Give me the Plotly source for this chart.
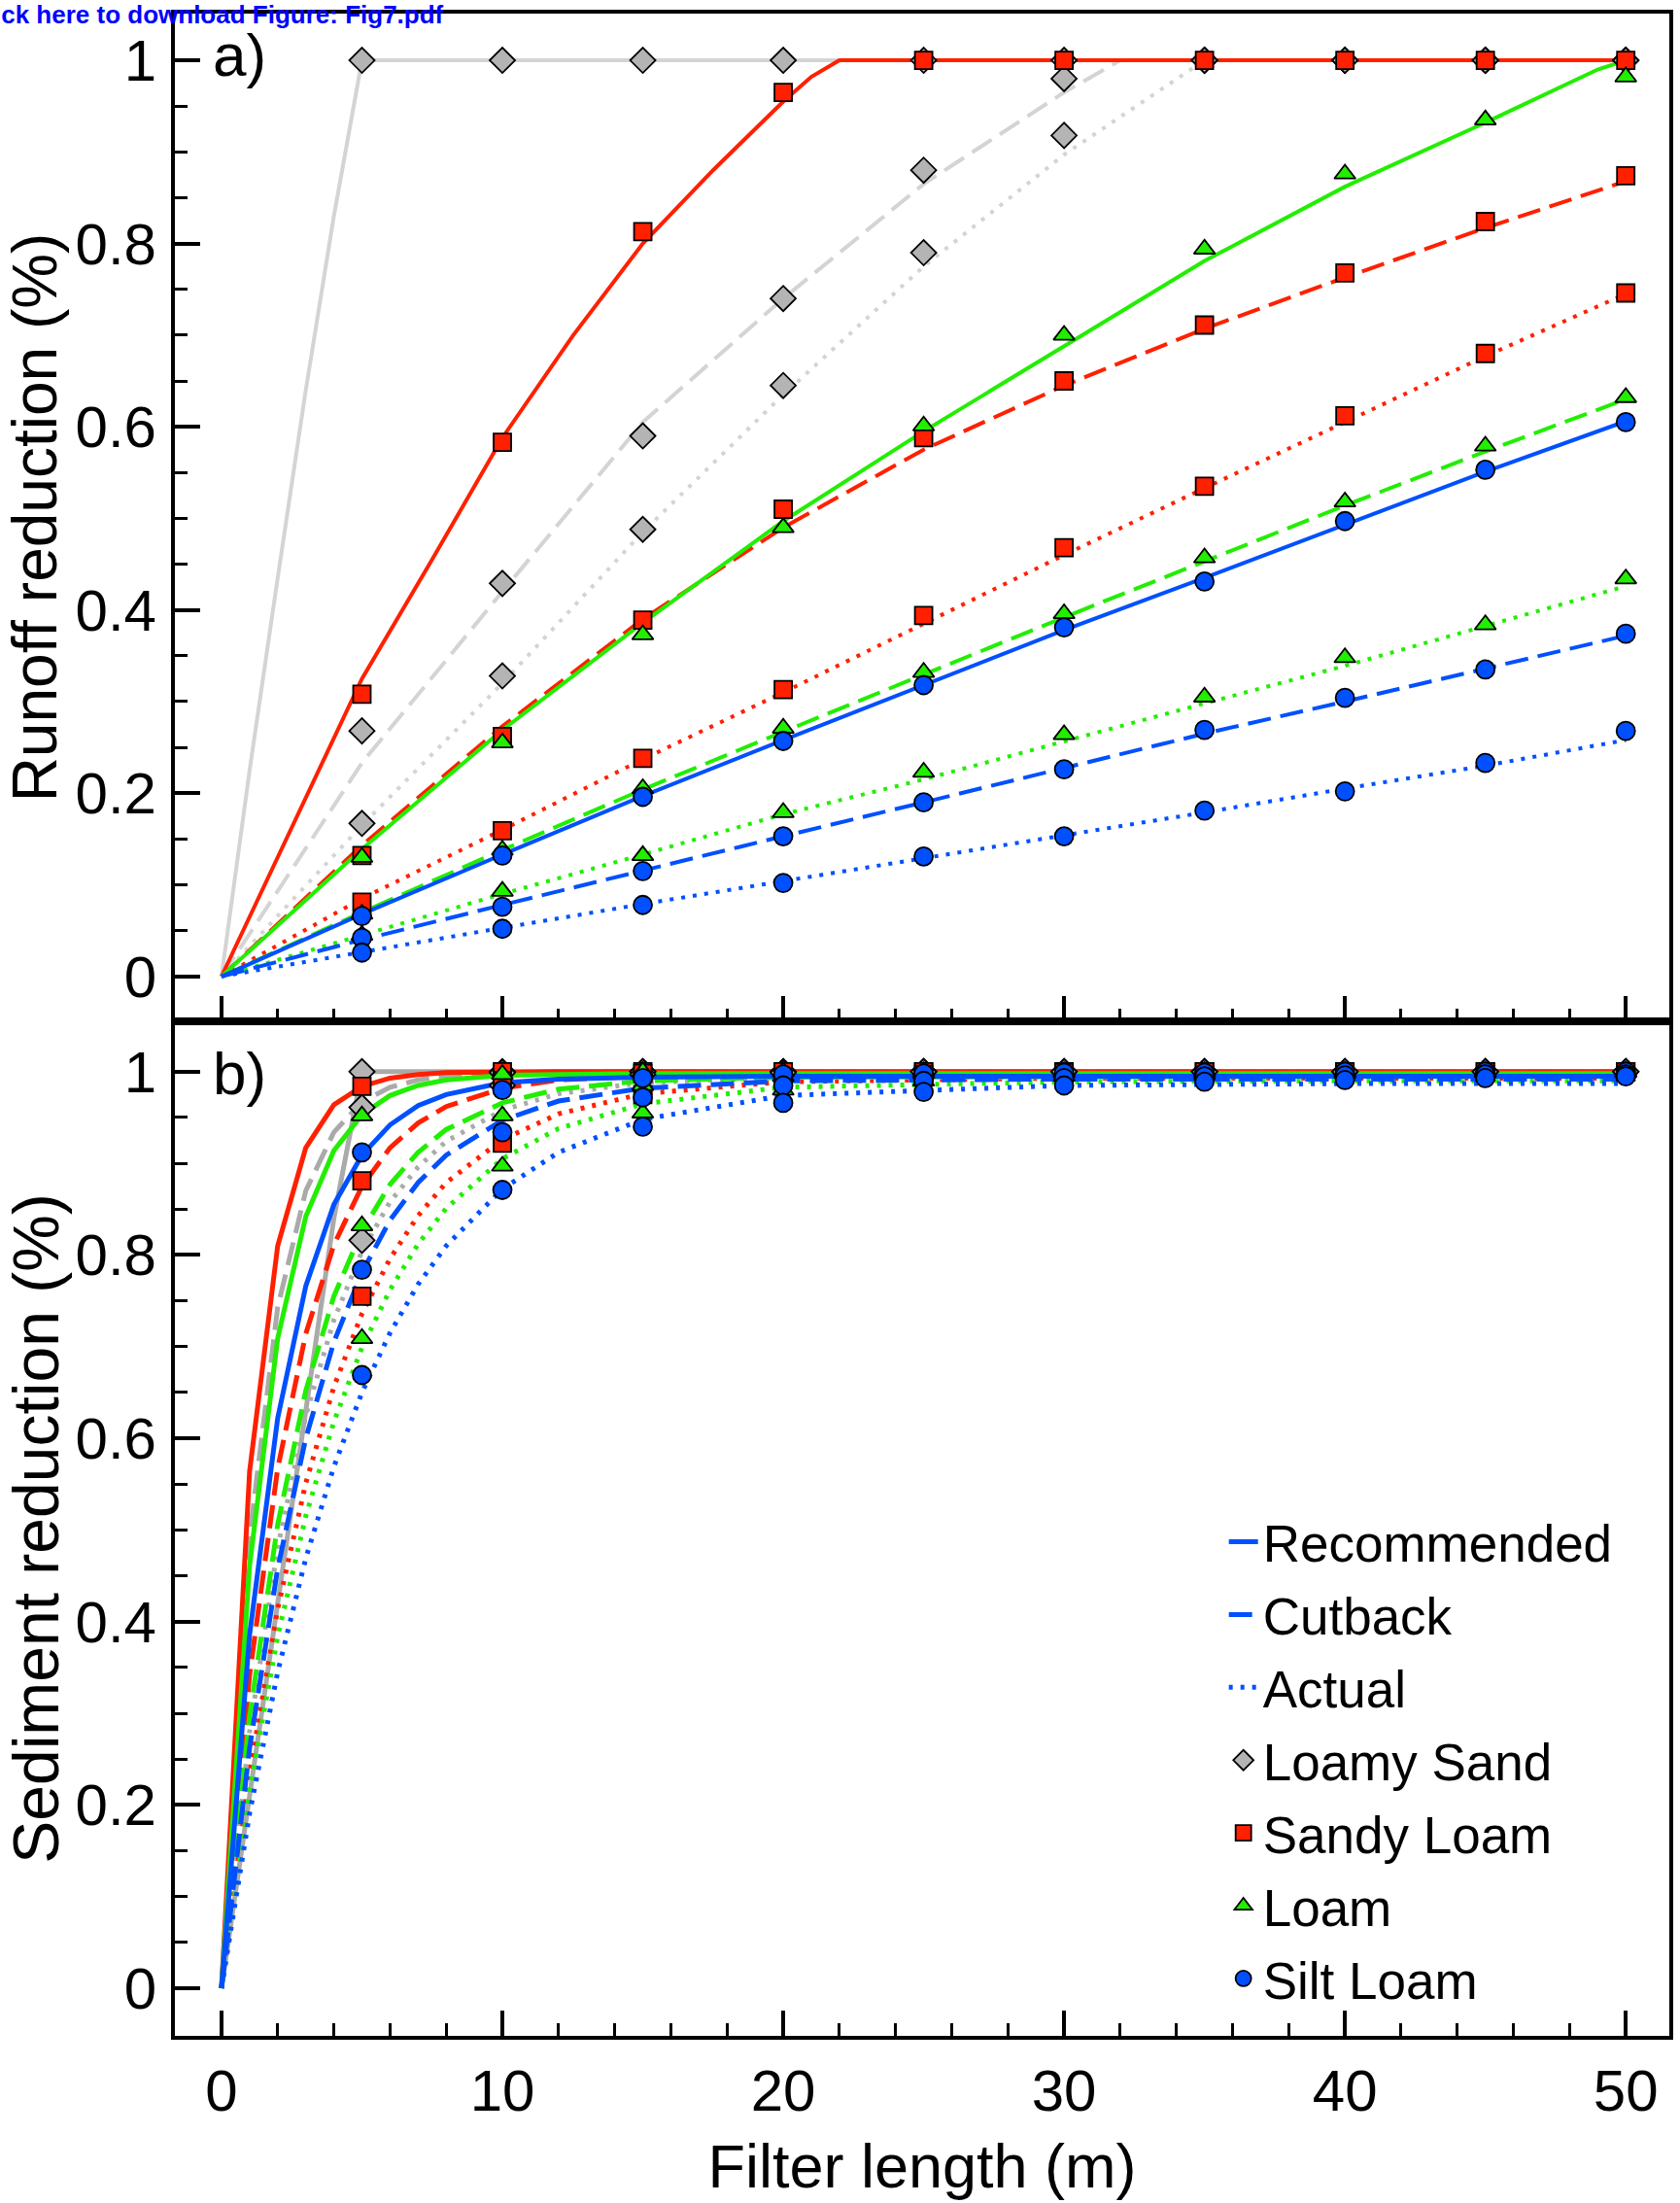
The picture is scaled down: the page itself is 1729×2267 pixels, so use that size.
import plotly.graph_objects as go
from plotly.subplots import make_subplots

# ---------------------------------------------------------------------------
# Filter lengths (m)
# ---------------------------------------------------------------------------
PT_X = [5, 10, 15, 20, 25, 30, 35, 40, 45, 50]          # simulated points
RO_X = [0, 5, 10, 15, 20, 25, 30, 35, 40, 45, 50]       # runoff curves
SD_X = [0, 1, 2, 3, 4, 5, 6, 7, 8, 10, 12, 15, 20, 30, 40, 50]  # sediment curves

# ---------------------------------------------------------------------------
# a) Runoff reduction – fitted curves
# ---------------------------------------------------------------------------
ro_ls_rec_x = [0, 1, 2, 3, 4, 5, 50]
ro_ls_rec = [0, 0.225, 0.435, 0.64, 0.83, 1.0, 1.0]
ro_ls_cut_x = [0, 5, 10, 15, 20, 25, 30, 32, 50]
ro_ls_cut = [0, 0.233, 0.42, 0.605, 0.74, 0.865, 0.965, 1.0, 1.0]
ro_ls_act_x = [0, 5, 10, 15, 20, 25, 30, 35, 50]
ro_ls_act = [0, 0.165, 0.32, 0.485, 0.635, 0.775, 0.897, 1.0, 1.0]

ro_sl_rec_x = [0, 5, 7.5, 10, 12.5, 15, 17.5, 20, 21, 22, 50]
ro_sl_rec = [0, 0.325, 0.455, 0.588, 0.699, 0.80, 0.88, 0.955, 0.982, 1.0, 1.0]
ro_sl_cut = [0, 0.143, 0.273, 0.39, 0.49, 0.575, 0.645, 0.707, 0.763, 0.817, 0.868]
ro_sl_act = [0, 0.085, 0.16, 0.237, 0.31, 0.385, 0.46, 0.533, 0.605, 0.677, 0.745]

ro_l_rec_x = [0, 5, 10, 15, 20, 25, 30, 35, 40, 45, 49, 50]
ro_l_rec = [0, 0.139, 0.269, 0.386, 0.497, 0.595, 0.688, 0.781, 0.862, 0.932, 0.99, 1.0]
ro_l_cut = [0, 0.07, 0.138, 0.204, 0.267, 0.33, 0.392, 0.453, 0.514, 0.573, 0.63]
ro_l_act = [0, 0.045, 0.09, 0.133, 0.177, 0.215, 0.257, 0.298, 0.339, 0.382, 0.426]

ro_sil_rec = [0, 0.068, 0.133, 0.197, 0.258, 0.318, 0.378, 0.435, 0.493, 0.551, 0.606]
ro_sil_cut = [0, 0.04, 0.078, 0.116, 0.153, 0.19, 0.227, 0.265, 0.30, 0.336, 0.372]
ro_sil_act = [0, 0.027, 0.053, 0.079, 0.104, 0.128, 0.154, 0.179, 0.205, 0.23, 0.258]

# a) Runoff reduction – simulated points
rp_ls_rec = [1.0, 1.0, 1.0, 1.0, 1.0, 1.0, 1.0, 1.0, 1.0, 1.0]
rp_ls_cut = [0.268, 0.429, 0.59, 0.74, 0.88, 0.98, 1.0, 1.0, 1.0, 1.0]
rp_ls_act = [0.167, 0.328, 0.488, 0.645, 0.79, 0.918, 1.0, 1.0, 1.0, 1.0]
rp_sl_rec = [0.308, 0.583, 0.813, 0.965, 1.0, 1.0, 1.0, 1.0, 1.0, 1.0]
rp_sl_cut = [0.132, 0.262, 0.389, 0.51, 0.588, 0.65, 0.711, 0.768, 0.824, 0.874]
rp_sl_act = [0.081, 0.159, 0.238, 0.313, 0.394, 0.468, 0.535, 0.612, 0.68, 0.746]
rp_l_rec = [0.13, 0.255, 0.373, 0.49, 0.601, 0.70, 0.794, 0.876, 0.935, 0.982]
rp_l_cut = [0.068, 0.138, 0.205, 0.271, 0.332, 0.396, 0.457, 0.518, 0.579, 0.632]
rp_l_act = [0.045, 0.093, 0.132, 0.179, 0.223, 0.264, 0.305, 0.348, 0.384, 0.434]
rp_sil_rec = [0.066, 0.132, 0.196, 0.257, 0.318, 0.381, 0.431, 0.497, 0.553, 0.605]
rp_sil_cut = [0.042, 0.076, 0.115, 0.153, 0.19, 0.226, 0.269, 0.304, 0.335, 0.374]
rp_sil_act = [0.026, 0.052, 0.078, 0.102, 0.131, 0.153, 0.181, 0.202, 0.233, 0.268]

# ---------------------------------------------------------------------------
# b) Sediment reduction – fitted curves (values at SD_X)
# ---------------------------------------------------------------------------
sd_ls_rec = [0, 0.21, 0.42, 0.63, 0.84, 1.0, 1.0, 1.0, 1.0, 1.0, 1.0, 1.0, 1.0, 1.0, 1.0, 1.0]
sd_ls_cut = [0, 0.493, 0.743, 0.87, 0.934, 0.967, 0.983, 0.991, 0.996, 0.999, 1.0, 1.0, 1.0, 1.0, 1.0, 1.0]
sd_ls_act = [0, 0.28, 0.481, 0.625, 0.729, 0.804, 0.858, 0.896, 0.924, 0.958, 0.976, 0.988, 0.994, 0.995, 0.995, 0.995]
sd_sl_rec = [0, 0.564, 0.81, 0.917, 0.964, 0.984, 0.993, 0.997, 0.999, 1.0, 1.0, 1.0, 1.0, 1.0, 1.0, 1.0]
sd_sl_cut = [0, 0.342, 0.567, 0.714, 0.811, 0.875, 0.917, 0.944, 0.962, 0.982, 0.991, 0.995, 0.997, 0.997, 0.997, 0.997]
sd_sl_act = [0, 0.235, 0.414, 0.551, 0.656, 0.736, 0.796, 0.843, 0.879, 0.926, 0.954, 0.976, 0.989, 0.993, 0.993, 0.993]
sd_l_rec = [0, 0.461, 0.709, 0.842, 0.914, 0.953, 0.974, 0.985, 0.991, 0.996, 0.997, 0.998, 0.998, 0.998, 0.998, 0.998]
sd_l_cut = [0, 0.297, 0.506, 0.652, 0.755, 0.826, 0.877, 0.912, 0.937, 0.966, 0.981, 0.99, 0.994, 0.995, 0.995, 0.995]
sd_l_act = [0, 0.215, 0.384, 0.515, 0.618, 0.699, 0.762, 0.812, 0.851, 0.905, 0.938, 0.965, 0.983, 0.989, 0.99, 0.99]
sd_sil_rec = [0, 0.386, 0.622, 0.766, 0.855, 0.909, 0.942, 0.963, 0.975, 0.988, 0.992, 0.994, 0.995, 0.995, 0.995, 0.995]
sd_sil_cut = [0, 0.262, 0.458, 0.60, 0.705, 0.781, 0.838, 0.879, 0.909, 0.947, 0.968, 0.982, 0.99, 0.992, 0.992, 0.992]
sd_sil_act = [0, 0.191, 0.345, 0.469, 0.569, 0.65, 0.715, 0.768, 0.81, 0.872, 0.912, 0.948, 0.974, 0.985, 0.987, 0.987]

# b) Sediment reduction – simulated points
sp_ls_rec = [1.0, 1.0, 1.0, 1.0, 1.0, 1.0, 1.0, 1.0, 1.0, 1.0]
sp_ls_cut = [0.961, 0.999, 1.0, 1.0, 1.0, 1.0, 1.0, 1.0, 1.0, 1.0]
sp_ls_act = [0.816, 0.985, 0.997, 0.999, 1.0, 1.0, 1.0, 1.0, 1.0, 1.0]
sp_sl_rec = [0.984, 1.0, 1.0, 1.0, 1.0, 1.0, 1.0, 1.0, 1.0, 1.0]
sp_sl_cut = [0.881, 0.99, 0.998, 1.0, 1.0, 1.0, 1.0, 1.0, 1.0, 1.0]
sp_sl_act = [0.755, 0.922, 0.975, 0.992, 0.997, 0.999, 1.0, 1.0, 1.0, 1.0]
sp_l_rec = [0.952, 0.997, 1.0, 1.0, 1.0, 1.0, 1.0, 1.0, 1.0, 1.0]
sp_l_cut = [0.832, 0.952, 0.985, 0.995, 0.998, 0.999, 1.0, 1.0, 1.0, 1.0]
sp_l_act = [0.709, 0.897, 0.955, 0.98, 0.99, 0.995, 0.997, 0.998, 0.999, 0.999]
sp_sil_rec = [0.912, 0.98, 0.993, 0.997, 0.998, 0.999, 0.999, 1.0, 1.0, 1.0]
sp_sil_cut = [0.784, 0.934, 0.972, 0.985, 0.99, 0.993, 0.995, 0.996, 0.997, 0.997]
sp_sil_act = [0.669, 0.871, 0.94, 0.966, 0.978, 0.985, 0.989, 0.991, 0.993, 0.995]

SOILS = ["Loamy Sand", "Sandy Loam", "Loam", "Silt Loam"]
SCENARIOS = ["Recommended", "Cutback", "Actual"]

# ---------------------------------------------------------------------------
# Styling
# ---------------------------------------------------------------------------
FONT = "Liberation Sans, Arial, Helvetica, sans-serif"
LINE_COLOR_A = {"Loamy Sand": "#d4d4d4", "Sandy Loam": "#ff2000",
                "Loam": "#22ee00", "Silt Loam": "#0050ff"}
LINE_COLOR_B = {"Loamy Sand": "#aaaaaa", "Sandy Loam": "#ff2000",
                "Loam": "#22ee00", "Silt Loam": "#0050ff"}
FILL = {"Loamy Sand": "#b4b4b4", "Sandy Loam": "#ff2000",
        "Loam": "#22ee00", "Silt Loam": "#0050ff"}
SYMBOL = {"Loamy Sand": "diamond", "Sandy Loam": "square",
          "Loam": "triangle-up", "Silt Loam": "circle"}
MSIZE = {"Loamy Sand": 20, "Sandy Loam": 18, "Loam": 19, "Silt Loam": 19}
DASH = {"Recommended": "solid", "Cutback": "24px,10px", "Actual": "4px,8px"}

runoff_curves = {
    ("Loamy Sand", "Recommended"): (ro_ls_rec_x, ro_ls_rec),
    ("Loamy Sand", "Cutback"): (ro_ls_cut_x, ro_ls_cut),
    ("Loamy Sand", "Actual"): (ro_ls_act_x, ro_ls_act),
    ("Sandy Loam", "Recommended"): (ro_sl_rec_x, ro_sl_rec),
    ("Sandy Loam", "Cutback"): (RO_X, ro_sl_cut),
    ("Sandy Loam", "Actual"): (RO_X, ro_sl_act),
    ("Loam", "Recommended"): (ro_l_rec_x, ro_l_rec),
    ("Loam", "Cutback"): (RO_X, ro_l_cut),
    ("Loam", "Actual"): (RO_X, ro_l_act),
    ("Silt Loam", "Recommended"): (RO_X, ro_sil_rec),
    ("Silt Loam", "Cutback"): (RO_X, ro_sil_cut),
    ("Silt Loam", "Actual"): (RO_X, ro_sil_act),
}
runoff_points = {
    ("Loamy Sand", "Recommended"): rp_ls_rec, ("Loamy Sand", "Cutback"): rp_ls_cut,
    ("Loamy Sand", "Actual"): rp_ls_act, ("Sandy Loam", "Recommended"): rp_sl_rec,
    ("Sandy Loam", "Cutback"): rp_sl_cut, ("Sandy Loam", "Actual"): rp_sl_act,
    ("Loam", "Recommended"): rp_l_rec, ("Loam", "Cutback"): rp_l_cut,
    ("Loam", "Actual"): rp_l_act, ("Silt Loam", "Recommended"): rp_sil_rec,
    ("Silt Loam", "Cutback"): rp_sil_cut, ("Silt Loam", "Actual"): rp_sil_act,
}
sed_curves = {
    ("Loamy Sand", "Recommended"): sd_ls_rec, ("Loamy Sand", "Cutback"): sd_ls_cut,
    ("Loamy Sand", "Actual"): sd_ls_act, ("Sandy Loam", "Recommended"): sd_sl_rec,
    ("Sandy Loam", "Cutback"): sd_sl_cut, ("Sandy Loam", "Actual"): sd_sl_act,
    ("Loam", "Recommended"): sd_l_rec, ("Loam", "Cutback"): sd_l_cut,
    ("Loam", "Actual"): sd_l_act, ("Silt Loam", "Recommended"): sd_sil_rec,
    ("Silt Loam", "Cutback"): sd_sil_cut, ("Silt Loam", "Actual"): sd_sil_act,
}
sed_points = {
    ("Loamy Sand", "Recommended"): sp_ls_rec, ("Loamy Sand", "Cutback"): sp_ls_cut,
    ("Loamy Sand", "Actual"): sp_ls_act, ("Sandy Loam", "Recommended"): sp_sl_rec,
    ("Sandy Loam", "Cutback"): sp_sl_cut, ("Sandy Loam", "Actual"): sp_sl_act,
    ("Loam", "Recommended"): sp_l_rec, ("Loam", "Cutback"): sp_l_cut,
    ("Loam", "Actual"): sp_l_act, ("Silt Loam", "Recommended"): sp_sil_rec,
    ("Silt Loam", "Cutback"): sp_sil_cut, ("Silt Loam", "Actual"): sp_sil_act,
}

fig = make_subplots(rows=2, cols=1, shared_xaxes=True, vertical_spacing=0)

# curves first, points on top
for soil in SOILS:
    for sc in SCENARIOS:
        xs, ys = runoff_curves[(soil, sc)]
        fig.add_trace(go.Scatter(x=xs, y=ys, mode="lines", showlegend=False,
                                 line=dict(color=LINE_COLOR_A[soil], width=4,
                                           dash=DASH[sc])), row=1, col=1)
        fig.add_trace(go.Scatter(x=SD_X, y=sed_curves[(soil, sc)], mode="lines",
                                 showlegend=False,
                                 line=dict(color=LINE_COLOR_B[soil], width=5,
                                           dash=DASH[sc])), row=2, col=1)

for soil in SOILS:
    for sc in SCENARIOS:
        mk = dict(symbol=SYMBOL[soil], size=MSIZE[soil], color=FILL[soil],
                  line=dict(color="black", width=1.8))
        fig.add_trace(go.Scatter(x=PT_X, y=runoff_points[(soil, sc)], mode="markers",
                                 marker=mk, showlegend=False), row=1, col=1)
        fig.add_trace(go.Scatter(x=PT_X, y=sed_points[(soil, sc)], mode="markers",
                                 marker=mk, showlegend=False), row=2, col=1)

# legend entries: scenarios as line styles, soils as symbols
for sc in SCENARIOS:
    fig.add_trace(go.Scatter(x=[None], y=[None], mode="lines", name=sc,
                             legendgroup=sc,
                             line=dict(color="#0050ff", width=5, dash=DASH[sc])),
                  row=2, col=1)
for soil in SOILS:
    fig.add_trace(go.Scatter(x=[None], y=[None], mode="markers", name=soil,
                             legendgroup=soil,
                             marker=dict(symbol=SYMBOL[soil], size=16, color=FILL[soil],
                                         line=dict(color="black", width=1.8))),
                  row=2, col=1)

X_MINOR = [v for v in range(2, 51, 2) if v % 10]
Y_MINOR = [round(0.05 * k, 2) for k in range(1, 20) if k % 4]

axis_common = dict(showline=True, linecolor="black", linewidth=4, mirror=True,
                   showgrid=False, zeroline=False, ticks="inside",
                   tickcolor="black", tickwidth=4, ticklen=26,
                   tickfont=dict(family=FONT, size=60, color="black"))

fig.update_xaxes(**axis_common, range=[-1.66, 51.55], tickvals=[0, 10, 20, 30, 40, 50],
                 minor=dict(tickvals=X_MINOR, ticks="inside", ticklen=13,
                            tickwidth=3, tickcolor="black"))
fig.update_xaxes(showticklabels=False, row=1, col=1)
fig.update_xaxes(title=dict(text="Filter length (m)", standoff=24,
                            font=dict(family=FONT, size=63, color="black")),
                 ticklabelstandoff=1, row=2, col=1)

fig.update_yaxes(**axis_common, tickvals=[0, 0.2, 0.4, 0.6, 0.8, 1],
                 ticktext=["0", "0.2", "0.4", "0.6", "0.8", "1"],
                 ticklabelstandoff=3,
                 minor=dict(tickvals=Y_MINOR, ticks="inside", ticklen=13,
                            tickwidth=3, tickcolor="black"))
fig.update_yaxes(range=[-0.049, 1.051], domain=[0.5017, 1.0], row=1, col=1,
                 title=dict(text="Runoff reduction (%)", standoff=16,
                            font=dict(family=FONT, size=64, color="black")))
fig.update_yaxes(range=[-0.052, 1.055], domain=[0.0, 0.5017], row=2, col=1,
                 title=dict(text="Sediment reduction (%)", standoff=16,
                            font=dict(family=FONT, size=66, color="black")))

fig.add_annotation(text="a)", xref="paper", yref="paper", x=0.024, y=0.997,
                   xanchor="left", yanchor="top", showarrow=False,
                   font=dict(family=FONT, size=62, color="black"))
fig.add_annotation(text="b)", xref="paper", yref="paper", x=0.024, y=0.4935,
                   xanchor="left", yanchor="top", showarrow=False,
                   font=dict(family=FONT, size=62, color="black"))
fig.add_annotation(text="<b>Click here to download Figure: Fig7.pdf</b>",
                   xref="paper", yref="paper", x=-0.139, y=0.9995,
                   xanchor="left", yanchor="middle", showarrow=False,
                   font=dict(family=FONT, size=26, color="#0000ff"))

fig.update_layout(
    width=1729, height=2267,
    margin=dict(l=180, r=7, t=14, b=172),
    paper_bgcolor="white", plot_bgcolor="white",
    showlegend=True,
    legend=dict(x=0.702, y=0.264, xanchor="left", yanchor="top",
                bgcolor="rgba(0,0,0,0)", traceorder="grouped", tracegroupgap=3,
                font=dict(family=FONT, size=53, color="black")),
)

fig.write_html("out.html")
